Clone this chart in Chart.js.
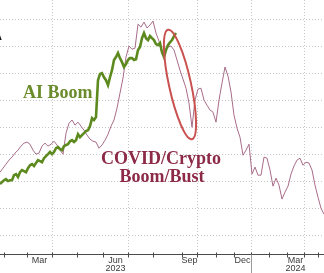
<!DOCTYPE html>
<html>
<head>
<meta charset="utf-8">
<script src="https://cdn.jsdelivr.net/npm/chart.js@4/dist/chart.umd.min.js"></script>
<style>
    html, body { margin: 0; padding: 0; background: #ffffff; }
    #wrap { width: 324px; height: 273px; }
</style>
</head>
<body>
<div id="wrap"><canvas id="boomChart" width="324" height="273"></canvas></div>
<script>

// =========================
// Data
// =========================

// month starts along the axis, Feb 2023 .. May 2024 (axis units)
const monthNames = ["Feb", "Mar", "Apr", "May", "Jun", "Jul", "Aug", "Sep",
                    "Oct", "Nov", "Dec", "Jan", "Feb", "Mar", "Apr", "May"];
const monthTicks = [4, 27, 52, 77, 103, 128, 153, 182,
                    197, 216, 234, 251, 269, 287, 304, 318];
const labelMonths = ["Mar", "Jun", "Sep", "Dec"];
const yearLabels = ["2023", "2024"];
const yearBreakIndex = 11;

const yTicks = [10, 20, 30, 40, 50, 60, 70, 80, 90];

// AI Boom (2023) - one value every 2 axis units
const aiStep = 2;
const aiBoom = [
    29.0, 29.7, 30.4, 30.8, 30.1, 30.4, 30.4, 32.3, 32.7, 31.6,
    33.4, 34.2, 33.8, 33.4, 34.9, 36.0, 36.4, 35.7, 36.8, 37.9,
    37.5, 37.1, 38.6, 39.4, 40.1, 40.9, 40.1, 40.9, 42.3, 42.7,
    42.0, 41.6, 43.1, 43.5, 43.8, 44.9, 45.3, 44.6, 45.3, 47.5,
    46.4, 47.2, 47.9, 48.7, 49.0, 50.5, 53.5, 52.8, 53.9, 67.6,
    69.9, 70.2, 68.7, 67.6, 65.8, 68.7, 71.3, 75.1, 76.2, 77.7,
    75.8, 74.3, 72.5, 73.6, 75.1, 75.8, 75.8, 75.1, 75.4, 78.8,
    79.9, 83.2, 85.1, 83.2, 82.5, 84.0, 83.2, 82.5, 81.0, 80.6,
    81.4, 78.0, 76.2, 78.8, 80.6, 81.7, 82.5, 84.0, 85.1
];

// COVID/Crypto boom/bust - one value every 3 axis units
const covidStep = 3;
const covidCrypto = [
    33.4, 34.9, 36.4, 37.9, 39.0, 40.5, 41.6, 43.1, 44.2, 44.6,
    43.8, 41.6, 40.1, 40.5, 43.1, 44.2, 43.1, 43.8, 44.9, 43.5,
    41.6, 40.1, 47.9, 51.6, 52.8, 50.9, 52.0, 50.5, 49.0, 47.2,
    45.7, 44.9, 44.6, 42.3, 43.5, 45.3, 47.5, 50.5, 52.8, 57.2,
    62.8, 68.4, 76.2, 80.3, 79.1, 79.5, 88.4, 87.3, 89.2, 87.0,
    88.1, 89.6, 85.1, 82.1, 77.3, 78.8, 79.9, 80.3, 78.8, 75.1,
    71.3, 68.0, 64.6, 59.1, 50.1, 60.2, 64.3, 64.6, 60.2, 58.3,
    56.5, 55.7, 52.0, 60.2, 66.5, 72.5, 69.1, 63.2, 54.6, 49.8,
    46.4, 39.7, 41.6, 43.8, 32.7, 35.3, 32.3, 32.3, 39.0, 38.6,
    34.2, 28.2, 31.2, 28.6, 23.4, 26.0, 28.2, 32.7, 35.7, 37.9,
    38.6, 36.0, 37.1, 36.8, 34.2, 28.6, 24.1, 20.0, 17.8
];

// =========================
// Colours
// =========================

const greenLine = "#5c8a1e";
const greenText = "#6b8c2c";
const covidLine = "#a86c88";
const covidText = "#8c2a47";
const ringColor = "#c9514f";
const gridColor = "#c6c6c6";

function toPoints(values, step) {
    return values.map((v, i) => ({ x: i * step, y: v }));
}

// =========================
// Axis, grid and notes plugin
// =========================

const decorations = {
    id: "decorations",
    beforeDatasetsDraw(chart) {
        const ctx = chart.ctx;
        const xs = chart.scales.x;
        const area = chart.chartArea;

        ctx.save();
        ctx.strokeStyle = gridColor;
        ctx.lineWidth = 1;
        ctx.setLineDash([1, 2]);
        monthTicks.forEach((m, i) => {
            if (i % 3 !== 2) return;
            const px = Math.round(xs.getPixelForValue(m)) + 0.5;
            ctx.beginPath();
            ctx.moveTo(px, area.top);
            ctx.lineTo(px, area.bottom);
            ctx.stroke();
        });
        ctx.restore();
    },
    afterDatasetsDraw(chart) {
        const ctx = chart.ctx;
        const xs = chart.scales.x;
        const ys = chart.scales.y;
        const area = chart.chartArea;
        const base = Math.round(area.bottom) + 0.5;

        ctx.save();

        // axis line and month ticks
        ctx.strokeStyle = "#4a4a4a";
        ctx.lineWidth = 1;
        ctx.beginPath();
        ctx.moveTo(0, base);
        ctx.lineTo(chart.width, base);
        ctx.stroke();

        monthTicks.forEach(m => {
            const px = Math.round(xs.getPixelForValue(m)) + 0.5;
            ctx.beginPath();
            ctx.moveTo(px, base - 2);
            ctx.lineTo(px, base + 3);
            ctx.stroke();
        });

        // year separator
        const yb = Math.round(xs.getPixelForValue(monthTicks[yearBreakIndex])) + 0.5;
        ctx.strokeStyle = "#9a9a9a";
        ctx.beginPath();
        ctx.moveTo(yb, base);
        ctx.lineTo(yb, chart.height);
        ctx.stroke();

        // month and year labels
        ctx.fillStyle = "#3a3a3a";
        ctx.font = "9px 'Liberation Sans', Arial, sans-serif";
        ctx.textAlign = "center";
        ctx.textBaseline = "middle";
        let lastMid = null;
        monthNames.forEach((name, i) => {
            if (i >= monthTicks.length - 1) return;
            if (labelMonths.indexOf(name) < 0) return;
            const mid = xs.getPixelForValue((monthTicks[i] + monthTicks[i + 1]) / 2);
            ctx.fillText(name, mid, base + 6);
            if (name === "Jun" && i < yearBreakIndex) {
                ctx.fillText(yearLabels[0], mid, base + 14);
            }
            if (name === "Mar" && i > yearBreakIndex) {
                lastMid = mid;
            }
        });
        if (lastMid !== null) {
            ctx.fillText(yearLabels[1], lastMid, base + 14);
        }

        // cut-off title glyph at top left
        ctx.fillStyle = "#111111";
        ctx.font = "bold 11px 'Liberation Sans', Arial, sans-serif";
        ctx.textAlign = "left";
        ctx.textBaseline = "alphabetic";
        ctx.fillText("A", -6, 40);

        // annotations
        ctx.font = "bold 18px 'Liberation Serif', 'DejaVu Serif', serif";
        ctx.fillStyle = greenText;
        ctx.textAlign = "left";
        ctx.fillText("AI Boom", 23, 98);

        ctx.fillStyle = covidText;
        ctx.textAlign = "center";
        ctx.fillText("COVID/Crypto", 161, 164);
        ctx.fillText("Boom/Bust", 162, 182);

        // ring round the bust
        const cx = xs.getPixelForValue(180);
        const cy = ys.getPixelForValue(66);
        ctx.strokeStyle = ringColor;
        ctx.lineWidth = 2;
        ctx.beginPath();
        ctx.ellipse(cx, cy, 11, 56, -0.215, 0, Math.PI * 2);
        ctx.stroke();

        ctx.restore();
    }
};

// =========================
// Chart
// =========================

new Chart(document.getElementById("boomChart"), {
    type: "line",
    data: {
        datasets: [
            {
                label: "AI Boom",
                data: toPoints(aiBoom, aiStep),
                borderColor: greenLine,
                borderWidth: 2.6,
                pointRadius: 0,
                tension: 0,
                order: 0
            },
            {
                label: "COVID/Crypto Boom/Bust",
                data: toPoints(covidCrypto, covidStep),
                borderColor: covidLine,
                borderWidth: 1,
                pointRadius: 0,
                tension: 0,
                order: 1
            }
        ]
    },
    options: {
        responsive: false,
        animation: false,
        events: [],
        layout: { padding: { left: 0, right: 0, top: 0, bottom: 19 } },
        plugins: {
            legend: { display: false },
            tooltip: { enabled: false }
        },
        scales: {
            x: {
                type: "linear",
                display: false,
                min: 0,
                max: 324
            },
            y: {
                type: "linear",
                min: 3,
                max: 97.4,
                afterBuildTicks: scale => {
                    scale.ticks = yTicks.map(v => ({ value: v }));
                },
                ticks: { display: false },
                grid: {
                    color: gridColor,
                    lineWidth: 1,
                    drawTicks: false
                },
                border: { display: false, dash: [1, 2] }
            }
        }
    },
    plugins: [decorations]
});

</script>
</body>
</html>
